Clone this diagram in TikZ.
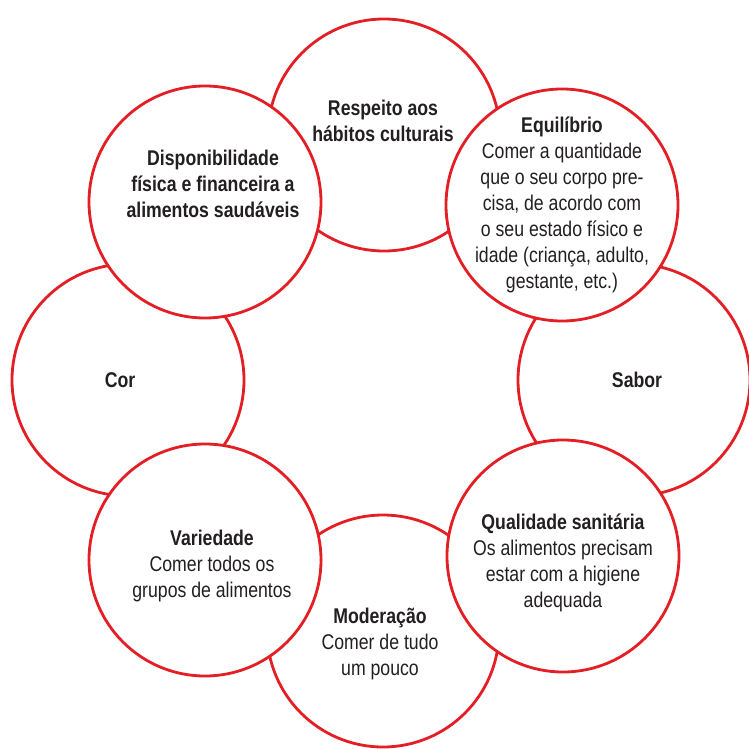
\documentclass[tikz,border=0pt]{standalone}
\usepackage{fontspec}
\setmainfont{Liberation Sans}[FakeStretch=0.83]
\definecolor{ringred}{RGB}{227,30,36}
\definecolor{txt}{RGB}{35,31,32}
\begin{document}
\begin{tikzpicture}[x=1pt,y=1pt,
  ring/.style={circle,draw=ringred,line width=2.8pt,fill=white,minimum size=232pt,inner sep=0pt},
  label/.style={align=center,text=txt,font=\fontsize{21.3}{26}\selectfont,inner sep=0pt}]
\useasboundingbox (0,0) rectangle (749,-749);
% back circles
\node[ring] (resp) at (384,-135) {};
\node[ring] (sabor) at (634,-380) {};
\node[ring] (mod) at (383,-631) {};
\node[ring] (cor) at (128,-380) {};
% front circles
\node[ring] (equi) at (562,-205) {};
\node[ring] (qual) at (563,-556) {};
\node[ring] (var) at (205,-560) {};
\node[ring] (disp) at (205,-202) {};
% texts
\node[label] (tresp) at (383,-121) {\bfseries Respeito aos\\\bfseries hábitos culturais};
\node[label] (tequi) at (562,-205) {\bfseries Equilíbrio\\Comer a quantidade\\que o seu corpo pre-\\cisa, de acordo com\\o seu estado físico e\\idade (criança, adulto,\\gestante, etc.)};
\node[label] (tsabor) at (637,-380) {\bfseries Sabor};
\node[label] (tqual) at (563,-563) {\bfseries Qualidade sanitária\\Os alimentos precisam\\estar com a higiene\\adequada};
\node[label] (tmod) at (380,-644) {\bfseries Moderação\\Comer de tudo\\um pouco};
\node[label] (tvar) at (212,-566) {\bfseries Variedade\\Comer todos os\\grupos de alimentos};
\node[label] (tcor) at (120,-380) {\bfseries Cor};
\node[label] (tdisp) at (213,-184) {\bfseries Disponibilidade\\\bfseries física e financeira a\\\bfseries alimentos saudáveis};
\end{tikzpicture}
\end{document}
